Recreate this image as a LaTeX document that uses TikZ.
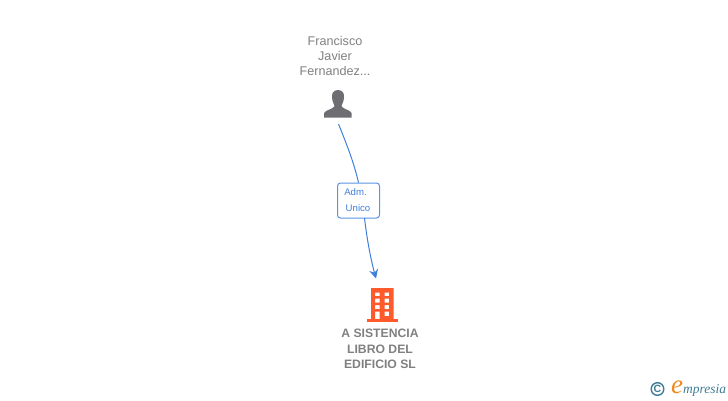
\documentclass[tikz,border=0pt]{standalone}
\usepackage{fontspec}
\setmainfont{Liberation Sans}
\newfontfamily\logofont{Liberation Serif}
\usetikzlibrary{arrows.meta}
\definecolor{txtgray}{HTML}{808080}
\definecolor{icongray}{HTML}{6E6E72}
\definecolor{linkblue}{HTML}{3F7FDC}
\definecolor{boxblue}{HTML}{5A94E4}
\definecolor{orangebld}{HTML}{FF5A2C}
\definecolor{logoblue}{HTML}{3F7C96}
\definecolor{logoorange}{HTML}{F08A1E}
\tikzset{
  x=1pt,y=-1pt,
  persontext/.style={font=\fontsize{12.6}{15}\selectfont,text=txtgray,align=center,inner sep=0pt},
  companytext/.style={font=\bfseries\fontsize{12.2}{15.5}\selectfont,text=txtgray,align=center,inner sep=0pt},
  rolebox/.style={draw=boxblue,line width=1pt,rounded corners=3pt,fill=white,minimum width=42pt,minimum height=35pt,inner sep=0pt,font=\fontsize{9.6}{15.5}\selectfont,text=linkblue},
  link/.style={draw=linkblue,line width=1pt},
  iconanchor/.style={inner sep=0pt,minimum size=0pt}
}
\begin{document}
\begin{tikzpicture}
\useasboundingbox (0,0) rectangle (728,400);
% person
\node[persontext] (pname) at (335,56) {Francisco\\Javier\\Fernandez...};
\fill[icongray] (338,90) .. controls (333,90) and (331.5,94) .. (332,98)
  .. controls (332.5,102) and (334,104) .. (334.5,106)
  .. controls (334,109) and (325,110) .. (324,113) -- (324,117.5) -- (351.5,117.5) -- (351.5,113)
  .. controls (351,110) and (342,109) .. (341.5,106)
  .. controls (342,104) and (343.5,102) .. (344,98)
  .. controls (344.5,94) and (343,90) .. (338,90) -- cycle;
\node[iconanchor] (person) at (338.5,124) {};
% building
\fill[orangebld,even odd rule] (371,288) rectangle (393.5,319)
  (375,292.5) rectangle (379.5,296) (384.5,292.5) rectangle (389,296)
  (375,298.5) rectangle (379.5,302.5) (384.5,298.5) rectangle (389,302.5)
  (375,305) rectangle (379.5,309) (384.5,305) rectangle (389,309)
  (375,311.5) rectangle (379.5,319) (384.5,311.5) rectangle (389,316);
\fill[orangebld] (367,319) rectangle (398,321.5);
\node[iconanchor] (company) at (376,278.5) {};
\node[companytext] (cname) at (380,349) {A SISTENCIA\\LIBRO DEL\\EDIFICIO SL};
% connector
\node[rolebox] (role) at (358.5,200.5) {};
\node[inner sep=0pt,text=linkblue,font=\fontsize{9.6}{10}\selectfont] (rolea) at (355.5,192) {Adm.};
\node[inner sep=0pt,text=linkblue,font=\fontsize{9.6}{10}\selectfont] (roleb) at (358,208) {Unico};
\draw[link] (person.center) .. controls (347,145) and (354,163) .. (role.north);
\draw[link,-{Stealth[length=9pt,width=9pt,inset=3pt]}] (364.5,218) .. controls (367,240) and (371,260) .. (company.center);
% logo
\node[inner sep=0pt,text=logoblue,font=\bfseries\fontsize{10.5}{10}\selectfont] (cc) at (657.5,389) {C};
\draw[logoblue,line width=1.4pt] (cc.center) circle (6.3);
\node[inner sep=0pt,text=logoorange,font=\logofont\itshape\fontsize{27}{27}\selectfont] (elogo) at (677,387) {e};
\node[inner sep=0pt,anchor=west,text=logoblue,font=\logofont\itshape\fontsize{13.5}{13}\selectfont] (mp) at (683,390) {mpresia};
\end{tikzpicture}
\end{document}
